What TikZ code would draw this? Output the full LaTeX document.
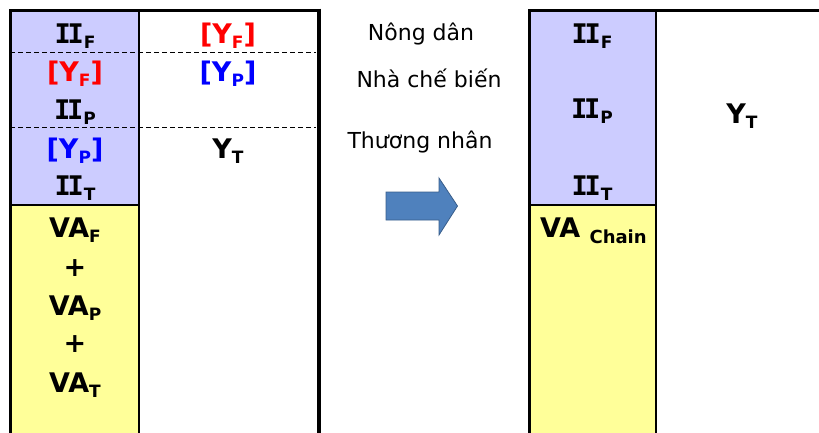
\documentclass[tikz,border=0pt]{standalone}
\usepackage{fontspec}
\setmainfont{DejaVu Sans}
\newfontfamily\slabfont{DejaVu Sans Mono}
\definecolor{cellblue}{HTML}{CCCCFF}
\definecolor{cellyellow}{HTML}{FFFF99}
\definecolor{arrowblue}{HTML}{4F81BD}
\definecolor{arrowedge}{HTML}{385D8A}
\definecolor{redtxt}{HTML}{FF0000}
\definecolor{bluetxt}{HTML}{0000FF}
\newcommand\subtxt[1]{\raisebox{-0.2em}{\fontsize{17}{17}\selectfont\bfseries #1}}
\newcommand\twoI{{\slabfont\bfseries I\kern-0.12em I}}
\begin{document}
\begin{tikzpicture}[x=1pt,y=-1pt,
  big/.style={font=\fontsize{27}{30}\selectfont\bfseries, inner sep=0pt, anchor=base},
  mid/.style={font=\fontsize{22}{26}\selectfont, inner sep=0pt, anchor=base},
  thickline/.style={line width=3pt, line cap=rect},
  thinline/.style={line width=1.3pt},
  dashline/.style={line width=1pt, dash pattern=on 5pt off 3pt}]
\useasboundingbox (0,0) rectangle (819,432);
% left table fills
\fill[cellblue] (10,10) rectangle (139,205);
\fill[cellyellow] (10,205) rectangle (139,440);
\draw[thinline] (10,205) -- (139,205);
\draw[thinline] (139,10) -- (139,440);
\draw[dashline] (10,52) -- (316,52);
\draw[dashline] (10,127) -- (316,127);
\draw[thickline] (10,440) -- (10,10) -- (318.5,10);
\draw[line width=4pt] (318.5,8.5) -- (318.5,440);
% left table texts
\node[big] (iif) at (75,43) {\twoI\subtxt{F}};
\node[big,text=redtxt] (yfl) at (75,81) {[Y\subtxt{F}]};
\node[big] (iip) at (75,119) {\twoI\subtxt{P}};
\node[big,text=bluetxt] (ypl) at (75,158) {[Y\subtxt{P}]};
\node[big] (iit) at (75,195) {\twoI\subtxt{T}};
\node[big] (vaf) at (75,237) {VA\subtxt{F}};
\node[big] (plus1) at (75,276) {+};
\node[big] (vap) at (75,315) {VA\subtxt{P}};
\node[big] (plus2) at (75,352) {+};
\node[big] (vat) at (75,392) {VA\subtxt{T}};
\node[big,text=redtxt] (yfr) at (228,43) {[Y\subtxt{F}]};
\node[big,text=bluetxt] (ypr) at (228,81) {[Y\subtxt{P}]};
\node[big] (ytl) at (228,158) {Y\subtxt{T}};
% middle labels
\node[mid] (nong) at (421,40) {Nông dân};
\node[mid] (nha) at (429,87) {Nhà chế biến};
\node[mid] (thuong) at (420,148) {Thương nhân};
% arrow
\draw[fill=arrowblue, draw=arrowedge, line width=0.8pt]
  (386,192) -- (439,192) -- (439,178) -- (457.5,206) -- (439,235) -- (439,220) -- (386,220) -- cycle;
% right table
\fill[cellblue] (529,10) rectangle (656,205);
\fill[cellyellow] (529,205) rectangle (656,440);
\draw[thinline] (529,205) -- (656,205);
\draw[thinline] (656,10) -- (656,440);
\draw[thickline] (529,440) -- (529,10) -- (830,10);
\node[big] (iif2) at (592,43) {\twoI\subtxt{F}};
\node[big] (iip2) at (592,118) {\twoI\subtxt{P}};
\node[big] (iit2) at (592,195) {\twoI\subtxt{T}};
\node[big, anchor=base west] (vac) at (540,237) {VA \raisebox{-0.25em}{\fontsize{18}{18}\selectfont\bfseries Chain}};
\node[big] (ytr) at (742,123) {Y\subtxt{T}};
\end{tikzpicture}
\end{document}
